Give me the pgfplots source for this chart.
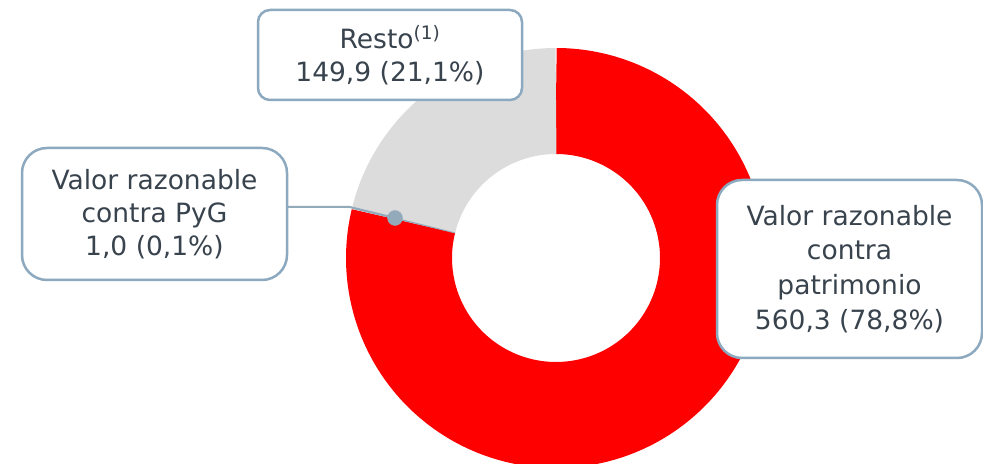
\documentclass[border=0pt]{standalone}
\usepackage{pgfplots}
\pgfplotsset{compat=1.18}
\usepackage{fontspec}
\setmainfont{DejaVu Sans}
\definecolor{txt}{HTML}{38434D}
\definecolor{brd}{HTML}{8DA9BF}
\definecolor{dotc}{HTML}{93AABB}
\definecolor{slgrey}{HTML}{DCDCDC}
\definecolor{slred}{HTML}{FF0000}
\begin{document}
\begin{tikzpicture}
% values
\pgfmathsetmacro{\vA}{560.3}% Valor razonable contra patrimonio
\pgfmathsetmacro{\vB}{1.0}% Valor razonable contra PyG
\pgfmathsetmacro{\vC}{149.9}% Resto
\pgfmathsetmacro{\tot}{\vA+\vB+\vC}
\pgfmathsetmacro{\aA}{90}
\pgfmathsetmacro{\aB}{90-360*(\vA/\tot)}
\pgfmathsetmacro{\aC}{\aB-360*(\vB/\tot)}
\pgfmathsetmacro{\aD}{\aC-360*(\vC/\tot)}
\begin{axis}[name=ax, width=983bp, height=464bp, scale only axis,
  xmin=0, xmax=983, ymin=0, ymax=464, hide axis, clip=true]
\addplot[draw=slred, line width=106bp, domain=\aB:\aA, samples=200, line cap=butt] ({556+157*cos(x)},{206+157*sin(x)});
\addplot[draw=slgrey, line width=106bp, domain=\aD:\aC, samples=100, line cap=butt] ({556+157*cos(x)},{206+157*sin(x)});
\addplot[draw=dotc, line width=106bp, domain=\aC:\aB, samples=3, line cap=butt] ({556+157*cos(x)},{206+157*sin(x)});
\addplot[draw=dotc, line width=2bp] coordinates {(287,257) (350,257) (395,246)};
\addplot[only marks, mark=*, mark size=7.5bp, mark options={fill=dotc, draw=dotc}] coordinates {(395,246)};
\node[draw=brd, line width=2.5bp, fill=white, rounded corners=12bp, minimum width=264bp, minimum height=90bp, align=center, text=txt, font=\fontsize{26.6}{33}\selectfont, inner sep=0pt] at (390,409) {Resto\textsuperscript{(1)}\\149,9 (21,1\%)};
\node[draw=brd, line width=2.5bp, fill=white, rounded corners=25bp, minimum width=265bp, minimum height=132bp, align=center, text=txt, font=\fontsize{26.6}{33}\selectfont, inner sep=0pt] at (154.5,250) {Valor razonable\\contra PyG\\1,0 (0,1\%)};
\node[draw=brd, line width=2.5bp, fill=white, rounded corners=25bp, minimum width=265bp, minimum height=178bp, align=center, text=txt, font=\fontsize{26.6}{35}\selectfont, inner sep=0pt] at (849.5,195) {Valor razonable\\contra\\patrimonio\\560,3 (78,8\%)};
\end{axis}
\pgfresetboundingbox
\path (ax.south west) rectangle (ax.north east);
\end{tikzpicture}
\end{document}
